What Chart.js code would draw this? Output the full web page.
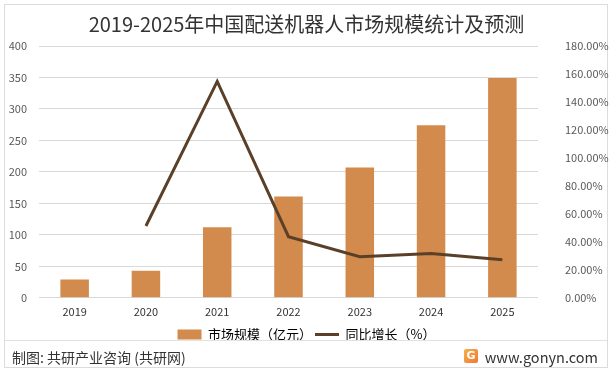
<!DOCTYPE html>
<html>
<head>
<meta charset="utf-8">
<script src="https://cdn.jsdelivr.net/npm/chart.js@4/dist/chart.umd.min.js"></script>
<style>
  body { margin: 0; background: #fff; font-family: "Noto Sans CJK SC", "Noto Sans", sans-serif; }
  #wrap { position: relative; width: 613px; height: 371px; overflow: hidden; }
  #frame { position: absolute; left: 4px; top: 4px; width: 602px; height: 362px; border: 1px solid #dcdcdc; }
  #chart-box { position: absolute; left: 0; top: 0; width: 613px; height: 351px; }
  #footer-line { position: absolute; left: 5px; top: 340px; width: 602px; height: 1px; background: #e2e2e2; }
  #source { position: absolute; left: 12px; top: 347px; font-size: 14px; color: #333; line-height: 20px; }
  #site { position: absolute; right: 15px; top: 347px; font-size: 14.5px; color: #333; line-height: 20px; }
  #logo { position: absolute; left: 464px; top: 349px; width: 14px; height: 14px; border-radius: 2px;
          background: linear-gradient(135deg, #f7b04a, #ee7a35); color: #fff; font: bold 11px/14px "DejaVu Sans", sans-serif; text-align: center; }
</style>
</head>
<body>
<div id="wrap">
  <div id="frame"></div>
  <div id="chart-box"><canvas id="myChart"></canvas></div>
  <div id="footer-line"></div>
  <div id="source">制图: 共研产业咨询 (共研网)</div>
  <div id="logo">G</div>
  <div id="site">www.gonyn.com</div>
</div>
<script>
// chart data
const years = ['2019', '2020', '2021', '2022', '2023', '2024', '2025'];
const marketSize = [29, 43, 112, 161, 207, 274, 349];          // 亿元
const growthRate = [null, 51.3, 154.7, 43.7, 29.4, 31.7, 27.2];  // %
const seriesNames = ['市场规模（亿元）', '同比增长（%）'];
const chartTitle = '2019-2025年中国配送机器人市场规模统计及预测';

const barColor = '#d38b4d';
const lineColor = '#5b4029';
const fontFamily = '"Noto Sans CJK SC", "Noto Sans", sans-serif';

function getId(id){
  return document.getElementById(id);
}

const data = {
  labels: years,
  datasets: [{
    type: 'bar',
    label: seriesNames[0],
    data: marketSize,
    backgroundColor: barColor,
    borderWidth: 0,
    barPercentage: 0.4,
    categoryPercentage: 1,
    yAxisID: 'y',
    order: 2
  },
  {
    type: 'line',
    label: seriesNames[1],
    data: growthRate,
    borderColor: lineColor,
    backgroundColor: lineColor,
    borderWidth: 3,
    pointRadius: 0,
    tension: 0,
    fill: false,
    yAxisID: 'y1',
    order: 1
  }]
};

const config = {
  data: data,
  options: {
    responsive: false,
    animation: false,
    layout: { padding: { top: 1, left: 0, right: 0, bottom: 0 } },
    plugins: {
      title: {
        display: true,
        text: chartTitle,
        color: '#333',
        font: { family: fontFamily, size: 20, weight: 'normal' },
        padding: { top: 11, bottom: 10 }
      },
      legend: {
        position: 'bottom',
        labels: {
          color: '#333',
          font: { family: fontFamily, size: 13 },
          usePointStyle: true,
          pointStyleWidth: 24,
          boxHeight: 10,
          padding: 3,
          generateLabels: () => [
            { text: seriesNames[0], fillStyle: barColor, strokeStyle: barColor, lineWidth: 0, pointStyle: 'rect', datasetIndex: 0 },
            { text: seriesNames[1], fillStyle: lineColor, strokeStyle: lineColor, lineWidth: 3, pointStyle: 'line', datasetIndex: 1 }
          ]
        }
      },
      tooltip: { enabled: false }
    },
    scales: {
      x: {
        grid: { display: false, drawTicks: false },
        border: { display: false },
        ticks: { color: '#333', padding: 7, font: { family: fontFamily, size: 11 } }
      },
      y: {
        position: 'left',
        min: 0,
        max: 400,
        ticks: { stepSize: 50, color: '#595959', padding: 12, font: { family: fontFamily, size: 11 } },
        grid: { color: '#d9d9d9', drawTicks: false },
        border: { display: false },
        afterFit: scale => { scale.width = 39; }
      },
      y1: {
        position: 'right',
        min: 0,
        max: 180,
        ticks: {
          stepSize: 20,
          color: '#595959',
          padding: 27,
          font: { family: fontFamily, size: 11 },
          callback: v => v.toFixed(2) + '%'
        },
        grid: { display: false, drawTicks: false },
        border: { display: false },
        afterFit: scale => { scale.width = 75; }
      }
    }
  }
};

const canvas = getId('myChart');
canvas.width = 613;
canvas.height = 351;
new Chart(canvas, config);
</script>
</body>
</html>
